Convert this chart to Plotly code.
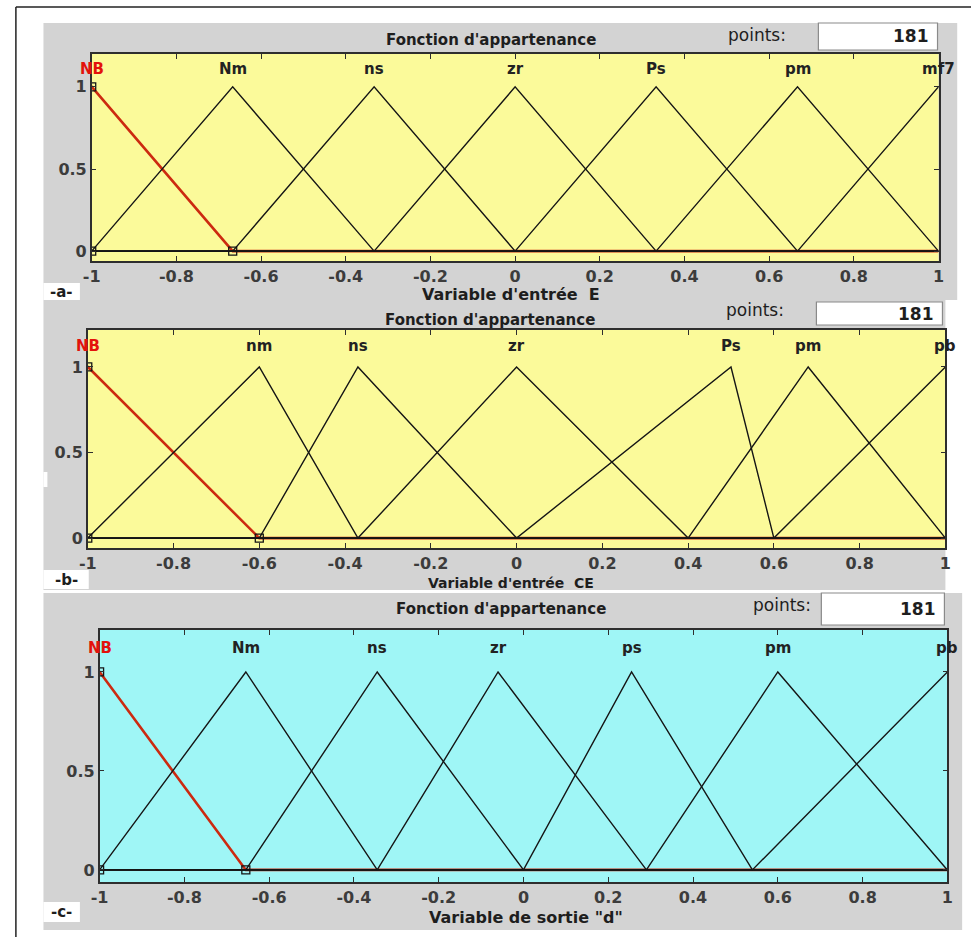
import plotly.graph_objects as go

# ---- membership functions (triangular: left foot, peak, right foot) ----
E_names = ["NB", "Nm", "ns", "zr", "Ps", "pm", "mf7"]
E_left = [-1.333, -1.0, -0.667, -0.333, 0.0, 0.333, 0.667]
E_peak = [-1.0, -0.667, -0.333, 0.0, 0.333, 0.667, 1.0]
E_right = [-0.667, -0.333, 0.0, 0.333, 0.667, 1.0, 1.333]

CE_names = ["NB", "nm", "ns", "zr", "Ps", "pm", "pb"]
CE_left = [-1.4, -1.0, -0.6, -0.37, 0.0, 0.4, 0.6]
CE_peak = [-1.0, -0.6, -0.37, 0.0, 0.5, 0.68, 1.0]
CE_right = [-0.6, -0.37, 0.0, 0.4, 0.6, 1.0, 1.4]

D_names = ["NB", "Nm", "ns", "zr", "ps", "pm", "pb"]
D_left = [-1.35, -1.0, -0.655, -0.345, 0.0, 0.29, 0.54]
D_peak = [-1.0, -0.655, -0.345, -0.06, 0.255, 0.6, 1.0]
D_right = [-0.655, -0.345, 0.0, 0.29, 0.54, 1.0, 1.4]

x_ticks = [-1, -0.8, -0.6, -0.4, -0.2, 0, 0.2, 0.4, 0.6, 0.8, 1]
x_ticktext = ["-1", "-0.8", "-0.6", "-0.4", "-0.2", "0", "0.2", "0.4", "0.6", "0.8", "1"]
y_ticks = [0, 0.5, 1]
y_ticktext = ["0", "0.5", "1"]

points_value = "181"
panel_tags = ["-a-", "-b-", "-c-"]
axis_titles = ["Variable d'entrée  E", "Variable d'entrée  CE", 'Variable de sortie "d"']
header = "Fonction d'appartenance"

W, H = 977, 937


def px(x):
    return x / W


def py(y):
    return 1 - y / H


# pixel layout of each panel
panels = [
    dict(names=E_names, left=E_left, peak=E_peak, right=E_right,
         plot=(84, 944, 54, 261), yr=[-0.06, 1.2], bg="#fbfa9a",
         gray=(35, 963, 23, 300), box=(822, 943, 23, 50),
         head=(490, 40), pts=(760, 35), tag=(35, 72, 283, 300),
         title=(510, 294), title_size=16, lab_y=1.11),
    dict(names=CE_names, left=CE_left, peak=CE_peak, right=CE_right,
         plot=(80, 951, 330, 548), yr=[-0.058, 1.216], bg="#fbfa9a",
         gray=(35, 951, 300, 590), box=(820, 948, 302, 325),
         head=(488, 320), pts=(758, 310), tag=(35, 81, 570, 589),
         title=(510, 583), title_size=14, lab_y=1.12),
    dict(names=D_names, left=D_left, peak=D_peak, right=D_right,
         plot=(92, 953, 630, 882), yr=[-0.061, 1.212], bg="#9ff6f6",
         gray=(35, 968, 593, 930), box=(825, 950, 593, 625),
         head=(500, 609), pts=(785, 605), tag=(35, 72, 902, 922),
         title=(525, 917), title_size=16, lab_y=1.12),
]

fig = go.Figure()
shapes = []
annotations = []

RED = "#cc2a10"
INK = "#151515"
AX = "#2e2e2e"
TICKFONT = dict(family="DejaVu Sans", size=16, color="#3c3c3c", weight="bold")

for i, p in enumerate(panels):
    n = "" if i == 0 else str(i + 1)
    xa, ya = "x" + n, "y" + n
    x0, x1, y0, y1 = p["plot"]

    # panel background, plot area and the points box
    g = p["gray"]
    shapes.append(dict(type="rect", xref="paper", yref="paper", layer="below",
                       x0=px(g[0]), x1=px(g[1]), y0=py(g[3]), y1=py(g[2]),
                       fillcolor="#d3d3d3", line=dict(width=0)))
    shapes.append(dict(type="rect", xref=xa + " domain", yref=ya + " domain", layer="below",
                       x0=0, x1=1, y0=0, y1=1, fillcolor=p["bg"], line=dict(width=0)))
    b = p["box"]
    shapes.append(dict(type="rect", xref="paper", yref="paper", layer="above",
                       x0=px(b[0]), x1=px(b[1]), y0=py(b[3]), y1=py(b[2]),
                       fillcolor="white", line=dict(color="#8a8a8a", width=1.2)))
    t = p["tag"]
    shapes.append(dict(type="rect", xref="paper", yref="paper", layer="above",
                       x0=px(t[0]), x1=px(t[1]), y0=py(t[3]), y1=py(t[2]),
                       fillcolor="white", line=dict(width=0)))

    # membership function curves, selected one (NB) in red
    for j in range(len(p["names"])):
        xs = [min(p["left"][j], -1.0), p["left"][j], p["peak"][j], p["right"][j], max(p["right"][j], 1.0)]
        ys = [0, 0, 1, 0, 0]
        sel = p["names"][j] == "NB"
        fig.add_trace(go.Scatter(
            x=xs, y=ys, xaxis=xa, yaxis=ya, mode="lines", showlegend=False,
            hoverinfo="skip",
            line=dict(color=RED if sel else INK, width=2.6 if sel else 1.4)))
    # vertex handles of the selected function
    fig.add_trace(go.Scatter(
        x=[p["peak"][0], p["peak"][0], p["right"][0]], y=[1, 0, 0],
        xaxis=xa, yaxis=ya, mode="markers", showlegend=False, hoverinfo="skip",
        marker=dict(symbol="square-open", size=8, color=INK, line=dict(width=1.3))))

    # function names above each peak
    for j, name in enumerate(p["names"]):
        annotations.append(dict(
            x=p["peak"][j], y=p["lab_y"], xref=xa, yref=ya, text=name, showarrow=False,
            xanchor="center", yanchor="middle",
            font=dict(family="DejaVu Sans", size=15, weight="bold",
                      color="#e3120b" if name == "NB" else "#222222")))

    # header texts
    annotations.append(dict(x=px(p["head"][0]), y=py(p["head"][1]), xref="paper", yref="paper",
                            text=header, showarrow=False, xanchor="center", yanchor="middle",
                            font=dict(family="DejaVu Sans", size=15, weight="bold", color="#1e1e1e")))
    annotations.append(dict(x=px(p["pts"][0]), y=py(p["pts"][1]), xref="paper", yref="paper",
                            text="points:", showarrow=False, xanchor="center", yanchor="middle",
                            font=dict(family="DejaVu Sans", size=17, color="#1e1e1e")))
    annotations.append(dict(x=px(b[1] - 7), y=py((b[2] + b[3]) / 2), xref="paper", yref="paper",
                            text=points_value, showarrow=False, xanchor="right", yanchor="middle",
                            font=dict(family="DejaVu Sans", size=17, weight="bold", color="#1e1e1e")))
    annotations.append(dict(x=px((t[0] + t[1]) / 2), y=py((t[2] + t[3]) / 2), xref="paper", yref="paper",
                            text=panel_tags[i], showarrow=False, xanchor="center", yanchor="middle",
                            font=dict(family="DejaVu Sans", size=15, weight="bold", color="#1e1e1e")))
    annotations.append(dict(x=px(p["title"][0]), y=py(p["title"][1]), xref="paper", yref="paper",
                            text=axis_titles[i], showarrow=False, xanchor="center", yanchor="middle",
                            font=dict(family="DejaVu Sans", size=p["title_size"],
                                      weight="bold", color="#1e1e1e")))

    axis_common = dict(showgrid=False, zeroline=False, showline=True, mirror="ticks",
                       linecolor=AX, linewidth=1.5, ticks="inside", ticklen=5,
                       tickcolor=AX, tickwidth=1.3, tickfont=TICKFONT, fixedrange=True)
    fig.layout["xaxis" + n] = dict(domain=[px(x0), px(x1)], range=[-1, 1], anchor=ya,
                                   tickvals=x_ticks, ticktext=x_ticktext, **axis_common)
    fig.layout["yaxis" + n] = dict(domain=[py(y1), py(y0)], range=p["yr"], anchor=xa,
                                   tickvals=y_ticks, ticktext=y_ticktext, **axis_common)

# outer frame lines
shapes.append(dict(type="line", xref="paper", yref="paper", x0=px(7), x1=px(977), y0=py(7), y1=py(7),
                   line=dict(color="#222", width=1.5)))
shapes.append(dict(type="line", xref="paper", yref="paper", x0=px(7), x1=px(7), y0=py(7), y1=py(937),
                   line=dict(color="#222", width=1.5)))
# small white notch on the left edge of the middle panel
shapes.append(dict(type="rect", xref="paper", yref="paper", layer="above",
                   x0=px(35), x1=px(39), y0=py(487), y1=py(472), fillcolor="white", line=dict(width=0)))

fig.update_layout(width=W, height=H, margin=dict(l=0, r=0, t=0, b=0),
                  paper_bgcolor="white", plot_bgcolor="rgba(0,0,0,0)",
                  shapes=shapes, annotations=annotations, showlegend=False)

fig.write_html("out.html")
